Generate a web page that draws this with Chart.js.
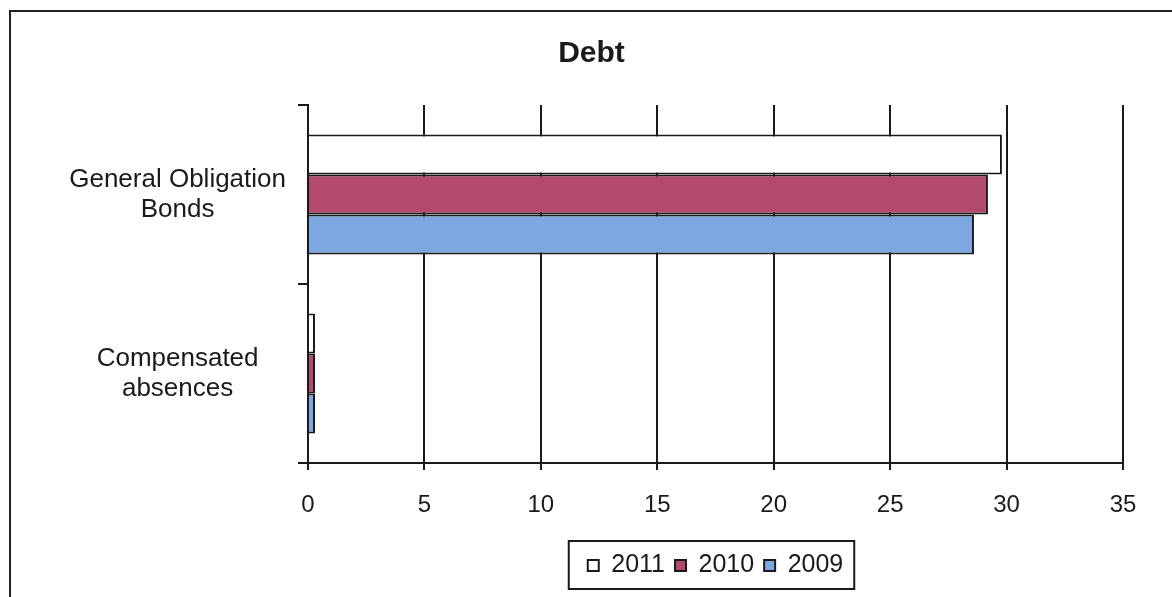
<!DOCTYPE html>
<html>
<head>
<meta charset="utf-8">
<title>Debt</title>
<script src="https://cdn.jsdelivr.net/npm/chart.js@4"></script>
<style>
    html, body { margin: 0; padding: 0; background: #fff; }
    .wrap { position: relative; width: 1172px; height: 597px; overflow: hidden; }
    .frame { position: absolute; left: 9px; top: 10px; width: 1200px; height: 700px; border-left: 2px solid #222; border-top: 2px solid #222; }
    #debtChart { position: absolute; left: 0; top: 0; }
</style>
</head>
<body>
<div class="wrap">
    <div class="frame"></div>
    <canvas id="debtChart" width="1172" height="597"></canvas>
</div>
<script>
const categories = [['General Obligation', 'Bonds'], ['Compensated', 'absences']];
const years = ['2011', '2010', '2009'];
const values2011 = [29.8, 0.3];
const values2010 = [29.2, 0.3];
const values2009 = [28.6, 0.3];
const xTicks = [0, 5, 10, 15, 20, 25, 30, 35];

const FONT = '"Liberation Sans", Arial, sans-serif';
const INK = '#1a1a1a';

// box around the legend items
const legendFrame = {
    id: 'legendFrame',
    afterDraw(chart) {
        const boxes = chart.legend.legendHitBoxes;
        if (!boxes || !boxes.length) return;
        const left = Math.min(...boxes.map((b) => b.left)) - 19;
        const right = Math.max(...boxes.map((b) => b.left + b.width)) + 11;
        const top = boxes[0].top - 12;
        const bottom = boxes[0].top + boxes[0].height + 11;
        const ctx = chart.ctx;
        ctx.save();
        ctx.strokeStyle = INK;
        ctx.lineWidth = 2;
        ctx.strokeRect(left, top, right - left, bottom - top);
        ctx.restore();
    }
};

new Chart(document.getElementById('debtChart'), {
    type: 'bar',
    data: {
        labels: categories,
        datasets: [
            { label: years[0], data: values2011, backgroundColor: '#ffffff' },
            { label: years[1], data: values2010, backgroundColor: '#b24b6b' },
            { label: years[2], data: values2009, backgroundColor: '#7ca7e0' }
        ].map((d) => Object.assign(d, { borderColor: INK, borderWidth: 2, categoryPercentage: 0.67, barPercentage: 1 }))
    },
    options: {
        indexAxis: 'y',
        responsive: false,
        animation: false,
        layout: { padding: { left: 60, right: 49, top: 0, bottom: 9 } },
        plugins: {
            title: {
                display: true,
                text: 'Debt',
                color: INK,
                font: { family: FONT, size: 30, weight: 'bold', lineHeight: 1.2 },
                padding: { top: 36, bottom: 33 }
            },
            legend: {
                position: 'bottom',
                fullSize: false,
                labels: {
                    color: INK,
                    font: { family: FONT, size: 25 },
                    boxWidth: 11,
                    boxHeight: 11,
                    padding: 10
                }
            },
            tooltip: { enabled: false }
        },
        scales: {
            x: {
                min: 0,
                max: 35,
                afterBuildTicks: (scale) => { scale.ticks = xTicks.map((v) => ({ value: v })); },
                afterFit: (scale) => { scale.height = 80; },
                grid: { color: INK, lineWidth: 2, tickLength: 7 },
                border: { display: true, color: INK, width: 2 },
                ticks: { color: INK, padding: 21, font: { family: FONT, size: 24 } }
            },
            y: {
                afterFit: (scale) => { scale.width = 248; },
                grid: { drawOnChartArea: false, color: INK, lineWidth: 2, tickLength: 10, offset: true },
                border: { display: true, color: INK, width: 2 },
                ticks: { color: INK, padding: 12, crossAlign: 'center', font: { family: FONT, size: 26, lineHeight: 1.15 } }
            }
        }
    },
    plugins: [legendFrame]
});
</script>
</body>
</html>
